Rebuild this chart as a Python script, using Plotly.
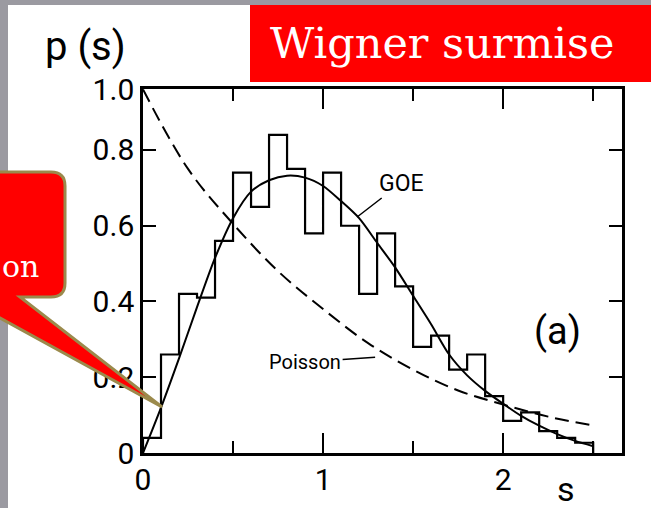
import plotly.graph_objects as go

# Histogram of nearest-neighbour spacings (bin width 0.1, from 0 to 2.5)
bin_edges = [0.0, 0.1, 0.2, 0.3, 0.4, 0.5, 0.6, 0.7, 0.8, 0.9, 1.0, 1.1, 1.2,
             1.3, 1.4, 1.5, 1.6, 1.7, 1.8, 1.9, 2.0, 2.1, 2.2, 2.3, 2.4, 2.5]
hist_vals = [0.04, 0.26, 0.42, 0.41, 0.56, 0.74, 0.65, 0.84, 0.75, 0.58,
             0.74, 0.60, 0.42, 0.58, 0.44, 0.28, 0.31, 0.22, 0.26, 0.15,
             0.085, 0.107, 0.058, 0.04, 0.027]

# GOE curve
goe_s = [0, 0.1, 0.2, 0.3, 0.4, 0.5, 0.6, 0.7, 0.8, 0.9, 1.0, 1.1, 1.2, 1.3,
         1.4, 1.5, 1.6, 1.7, 1.8, 1.9, 2.0, 2.1, 2.2, 2.3, 2.4, 2.5]
goe_p = [0, 0.12, 0.25, 0.385, 0.515, 0.62, 0.69, 0.72, 0.732, 0.727, 0.705,
         0.665, 0.62, 0.555, 0.49, 0.415, 0.34, 0.26, 0.205, 0.164, 0.13,
         0.098, 0.072, 0.05, 0.032, 0.018]

# Poisson curve
poi_s = [0, 0.25, 0.5, 0.75, 1.0, 1.25, 1.5, 1.75, 2.0, 2.25, 2.5]
poi_p = [0.96, 0.75, 0.605, 0.48, 0.38, 0.29, 0.22, 0.165, 0.128, 0.096, 0.073]

x_ticks = [0, 1, 2]
x_minor = [0.5, 1.5, 2.5]
y_ticks = [0, 0.2, 0.4, 0.6, 0.8, 0.961]
y_text = ["0", "0.2", "0.4", "0.6", "0.8", "1.0"]

# plot area in pixels
L, R, T, B = 143, 622, 89, 453
W, H = 651, 508


def px(X, Y):
    # pixel position -> paper coordinates
    return (X - L) / (R - L), (B - Y) / (B - T)


def path(points):
    out = []
    for cmd, pts in points:
        out.append(cmd + " ".join("%.4f,%.4f" % px(*p) for p in pts))
    return " ".join(out) + " Z"


fig = go.Figure()

# step histogram
hx = [bin_edges[0]] + bin_edges + [bin_edges[-1]]
hy = [0] + hist_vals + [hist_vals[-1], 0]
fig.add_trace(go.Scatter(x=hx, y=hy, mode='lines', line=dict(color='black', width=2.2, shape='hv'),
                         hoverinfo='skip', showlegend=False))

fig.add_trace(go.Scatter(x=goe_s, y=goe_p, mode='lines',
                         line=dict(color='black', width=2, shape='spline', smoothing=0.8),
                         name='GOE', showlegend=False))

fig.add_trace(go.Scatter(x=poi_s, y=poi_p, mode='lines',
                         line=dict(color='black', width=2, shape='spline', dash='14px,7px'),
                         name='Poisson', showlegend=False))

shapes = []
# grey slide background strips
shapes.append(dict(type='rect', xref='paper', yref='paper', layer='below',
                   x0=px(-5, 0)[0], x1=px(8, 0)[0], y0=px(0, 520)[1], y1=px(0, -5)[1],
                   fillcolor='#9b9aa1', line=dict(width=0)))
shapes.append(dict(type='rect', xref='paper', yref='paper', layer='below',
                   x0=px(-5, 0)[0], x1=px(660, 0)[0], y0=px(0, 5)[1], y1=px(0, -5)[1],
                   fillcolor='#9b9aa1', line=dict(width=0)))
# red title box
shapes.append(dict(type='rect', xref='paper', yref='paper', layer='above',
                   x0=px(250, 0)[0], x1=px(660, 0)[0], y0=px(0, 82)[1], y1=px(0, 5)[1],
                   fillcolor='#ff0000', line=dict(width=0)))
# callout on the left
callout = path([
    ("M", [(-20, 172)]), ("L", [(51, 172)]), ("Q", [(65, 172), (65, 186)]),
    ("L", [(65, 283)]), ("Q", [(65, 297), (51, 297)]), ("L", [(20, 297)]),
    ("L", [(162, 407)]), ("L", [(-20, 307)]),
])
shapes.append(dict(type='path', xref='paper', yref='paper', layer='above', path=callout,
                   fillcolor='#ff0000', line=dict(color='#9b8a4c', width=3)))

font = dict(family='Roboto', color='black')


def label(X, Y, text, size, family='Roboto', color='black', xanchor='center'):
    return dict(x=px(X, Y)[0], y=px(X, Y)[1], xref='paper', yref='paper',
                xanchor=xanchor, yanchor='middle', text=text, showarrow=False,
                font=dict(family=family, size=size, color=color))


annotations = [
    label(85, 47, 'p (s)', 40),
    label(566, 489, 's', 34),
    dict(x=2.3, y=0.323, text='(a)', showarrow=False, xanchor='center', yanchor='middle',
         font=dict(size=38, **font)),
    dict(x=1.189, y=0.623, text='GOE', showarrow=True, arrowhead=0, arrowwidth=1.5,
         arrowcolor='black', ax=44, ay=-34, font=dict(size=23, **font)),
    dict(x=1.289, y=0.253, text='Poisson', showarrow=True, arrowhead=0, arrowwidth=1.5,
         arrowcolor='black', ax=-70, ay=5, font=dict(size=20, **font)),
    label(442, 43, 'Wigner surmise', 43, family='DejaVu Serif', color='white'),
    label(0, 266, 'on', 30, family='DejaVu Serif', color='white', xanchor='left'),
]

axis_common = dict(showline=True, linecolor='black', linewidth=2.5, mirror='ticks',
                   ticks='inside', tickcolor='black', tickwidth=2, showgrid=False,
                   zeroline=False, tickfont=dict(family='Roboto', size=30, color='black'))

fig.update_layout(
    width=W, height=H, autosize=False,
    margin=dict(l=L, r=W - R, t=T, b=H - B),
    plot_bgcolor='white', paper_bgcolor='white',
    xaxis=dict(range=[0, 2.66], tickmode='array', tickvals=x_ticks,
               ticktext=[str(v) for v in x_ticks], ticklen=20, ticklabelstandoff=-2,
               minor=dict(tickmode='array', tickvals=x_minor, ticklen=12, tickwidth=2,
                          ticks='inside', tickcolor='black', showgrid=False),
               **axis_common),
    yaxis=dict(range=[0, 0.961], tickmode='array', tickvals=y_ticks, ticktext=y_text,
               ticklen=13, **axis_common),
    shapes=shapes, annotations=annotations,
)

# the page's default 8px body margin would shift the whole figure
fig.write_html("out.html", config={'displayModeBar': False},
               post_script="document.body.style.margin='0';")
